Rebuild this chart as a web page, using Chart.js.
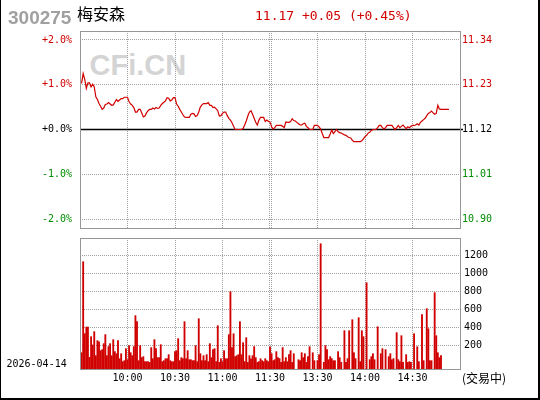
<!DOCTYPE html>
<html>
<head>
<meta charset="utf-8">
<script src="https://cdn.jsdelivr.net/npm/chart.js@4.4.1/dist/chart.umd.min.js"></script>
<style>
  html, body { margin: 0; padding: 0; background: #fff; }
  #frame { position: relative; width: 540px; height: 400px; overflow: hidden; background: #fff; }
  #edge { position: absolute; left: 0; top: 0; width: 540px; height: 400px; box-sizing: border-box;
          border-left: 1px solid #000; border-right: 2px solid #000; border-bottom: 2px solid #000; z-index: 5; }
  canvas { position: absolute; left: 0; z-index: 2; }
  .txt { position: absolute; white-space: pre; z-index: 3; }
  #code { left: 8px; top: 7.5px; font: bold 19px/19px 'Liberation Sans', Arial, sans-serif; color: #a0a0a0; }
  #name { left: 77px; top: 5px; font: 16px/16px 'Noto Sans CJK SC', sans-serif; color: #000; }
  #quote { left: 255px; top: 8.5px; font: 13px/13px 'DejaVu Sans Mono', monospace; color: #d00000; }
  #mark { left: 89.5px; top: 51px; font: bold 29px/29px 'Liberation Sans', Arial, sans-serif; color: #d4d4d4; z-index: 1; }
  #date { left: 6.5px; top: 358.5px; font: 10px/10px 'DejaVu Sans Mono', monospace; color: #000; }
  #state { left: 462px; top: 372px; font: 12px/12px 'Noto Sans CJK SC', sans-serif; color: #000; }
</style>
</head>
<body>
<div id="frame">
  <div id="code" class="txt">300275</div>
  <div id="name" class="txt">梅安森</div>
  <div id="quote" class="txt">11.17 +0.05 (+0.45%)</div>
  <div id="mark" class="txt">CFi.CN</div>
  <canvas id="priceChart" width="540" height="235" style="top:0"></canvas>
  <canvas id="volChart" width="540" height="168" style="top:232px"></canvas>
  <div id="date" class="txt">2026-04-14</div>
  <div id="state" class="txt">(交易中)</div>
  <div id="edge"></div>
</div>
<script>
// previous close and intraday data, one value per minute from 9:31
const prevClose = 11.12;

// change vs previous close, in percent
const pct = [
  1.03, 1.25, 1.12, 0.92, 1.04, 1.04, 0.95, 1.01, 0.95, 0.73,
  0.67, 0.58, 0.52, 0.45, 0.48, 0.56, 0.57, 0.60, 0.57, 0.54,
  0.55, 0.61, 0.67, 0.63, 0.66, 0.69, 0.69, 0.72, 0.72, 0.72,
  0.62, 0.57, 0.54, 0.49, 0.39, 0.39, 0.45, 0.45, 0.37, 0.28,
  0.30, 0.37, 0.42, 0.45, 0.45, 0.48, 0.46, 0.49, 0.47, 0.48,
  0.54, 0.58, 0.61, 0.64, 0.71, 0.70, 0.64, 0.66, 0.71, 0.71,
  0.57, 0.52, 0.45, 0.39, 0.33, 0.28, 0.27, 0.27, 0.27, 0.34,
  0.36, 0.35, 0.29, 0.31, 0.39, 0.50, 0.55, 0.58, 0.58, 0.58,
  0.60, 0.54, 0.54, 0.49, 0.50, 0.46, 0.42, 0.30, 0.31, 0.36,
  0.39, 0.39, 0.31, 0.25, 0.21, 0.15, 0.07, 0.00, 0.00, 0.00,
  0.00, 0.00, 0.02, 0.10, 0.19, 0.30, 0.39, 0.42, 0.34, 0.25,
  0.16, 0.10, 0.21, 0.27, 0.27, 0.27, 0.18, 0.21, 0.18, 0.17,
  0.06, 0.01, 0.04, 0.09, 0.09, 0.09, 0.09, 0.07, 0.04, 0.17,
  0.16, 0.16, 0.18, 0.24, 0.20, 0.19, 0.16, 0.13, 0.10, 0.10,
  0.13, 0.14, 0.07, 0.04, 0.00, 0.00, 0.00, 0.09, 0.09, 0.09,
  0.06, 0.01, -0.09, -0.18, -0.18, -0.18, -0.18, -0.10, -0.01, -0.09,
  -0.05, 0.00, -0.05, -0.07, -0.08, -0.10, -0.12, -0.13, -0.16, -0.18,
  -0.19, -0.24, -0.27, -0.27, -0.27, -0.27, -0.27, -0.25, -0.21, -0.16,
  -0.13, -0.08, -0.06, -0.02, 0.00, 0.00, 0.00, 0.04, 0.09, 0.09,
  0.04, 0.01, 0.04, 0.09, 0.09, 0.09, 0.09, 0.04, 0.00, 0.04,
  0.09, 0.04, 0.07, 0.10, 0.06, 0.02, 0.06, 0.04, 0.07, 0.09,
  0.09, 0.10, 0.13, 0.10, 0.16, 0.19, 0.22, 0.25, 0.31, 0.36,
  0.38, 0.41, 0.37, 0.34, 0.36, 0.54, 0.46, 0.45, 0.45, 0.45,
  0.45, 0.45, 0.45
];

// volume per minute (lots); null = no trade that minute
const vol = [
  118, 1135, 331, 405, 405, 66, 297, 204, 353, 85,
  253, 241, 141, 152, 219, 320, 85, 186, 219, 85,
  264, 130, 107, 253, 51, 107, 18, 29, 163, 40,
  197, 118, 85, 186, 532, 465, 29, 197, 63, 74,
  18, 18, 18, 10, 175, 51, 264, 163, 63, 63,
  208, 18, 29, 51, 51, 96, 29, 18, 18, 130,
  141, 275, 29, 63, 51, 465, 51, 141, 40, 40,
  29, 29, 197, 18, 498, 107, 29, 85, 29, 96,
  18, 219, 63, 152, 163, 18, 420, 10, 51, 18,
  141, 51, 51, 320, 800, 175, 330, 74, 85, 96,
  465, 96, 230, 18, 286, 10, 85, 51, 85, 186,
  63, 10, 18, 51, 29, 18, 51, 29, 18,
  185, 107, 29, 40, 130, 63, 52, 10, 175, 18,
  63, 18, 96, 141, 10, 107, null, null, 40, 29,
  118, 63, 107, 10, 74, 185, null, 118, 29, null,
  29, 96, 1336, null, 10, 197, 152, 40, 74, 52,
  29, 29, null, 130, 63, 10, null, 364, 10, 52,
  364, null, 487, 118, 52, null, 509, 18, 364, 297,
  null, 900, null, 40, 74, 107, 40, null, 408, null,
  107, 163, null, 152, null, 74, 107, 40, 52, null,
  342, 40, 18, 308, 10, null, 96, 10, 18, 10,
  null, 330, null, 185, 18, null, 543, 29, null, 610,
  386, 29, 29, null, 789, 308, 118, 63, 85
];

const pctTicks = [-2, -1, 0, 1, 2];
const volTicks = [200, 400, 600, 800, 1000, 1200];
const timeLabels = ['10:00', '10:30', '11:00', '11:30', '13:30', '14:00', '14:30'];
const lunchMinute = 120;
const volMin = -64;
const volMax = 1400;

const redC = '#d00000';
const greenC = '#008c00';
const gridC = '#a0a0a0';
const boxC = '#969696';
const mono = 'DejaVu Sans Mono';

const gridMinutes = timeLabels.map((t, i) => 30 * (i + 1));
const priceData = pct.map((v, i) => ({ x: i + 1, y: v }));
const volData = vol.map((v, i) => ({ x: i + 1, y: v })).filter(p => p.y !== null);

const signColor = v => v > 0 ? redC : v < 0 ? greenC : '#000';
const clear = 'rgba(0,0,0,0)';

// fixed axis width, no extra room for half labels
const fixWidth = w => s => { s.width = w; s.paddingTop = 0; s.paddingBottom = 0; };

// gray frame round each panel
const panelBox = {
  id: 'panelBox',
  afterDraw(chart) {
    const { ctx, chartArea: a } = chart;
    ctx.save();
    ctx.strokeStyle = boxC;
    ctx.lineWidth = 1;
    ctx.strokeRect(a.left + 0.5, a.top + 0.5, a.right - a.left, a.bottom - a.top);
    ctx.restore();
  }
};

// the 11:30 / 13:00 break is marked with a doubled dotted line
const lunchBreak = {
  id: 'lunchBreak',
  beforeDatasetsDraw(chart) {
    const { ctx, chartArea: a, scales } = chart;
    const x = Math.round(scales.x.getPixelForValue(lunchMinute));
    ctx.save();
    ctx.strokeStyle = gridC;
    ctx.lineWidth = 1;
    ctx.setLineDash([1, 1]);
    [x - 1, x + 1].forEach(px => {
      ctx.beginPath();
      ctx.moveTo(px + 0.5, a.top);
      ctx.lineTo(px + 0.5, a.bottom);
      ctx.stroke();
    });
    ctx.restore();
  }
};

// black line at previous close
const zeroLine = {
  id: 'zeroLine',
  beforeDatasetsDraw(chart) {
    const { ctx, chartArea: a, scales } = chart;
    const y = scales.y.getPixelForValue(0);
    ctx.save();
    ctx.strokeStyle = '#000';
    ctx.lineWidth = 1.5;
    ctx.beginPath();
    ctx.moveTo(a.left, y);
    ctx.lineTo(a.right + 3, y);
    ctx.stroke();
    ctx.restore();
  }
};

const xGridColor = c => (c.tick && c.tick.value === lunchMinute) ? clear : gridC;

new Chart(document.getElementById('priceChart'), {
  type: 'line',
  data: {
    datasets: [{
      data: priceData,
      borderColor: redC,
      borderWidth: 1.2,
      pointRadius: 0,
      tension: 0,
      yAxisID: 'y'
    }]
  },
  options: {
    responsive: false,
    animation: false,
    devicePixelRatio: 1,
    layout: { autoPadding: false, padding: { top: 31, bottom: 7, left: 0, right: 0 } },
    plugins: { legend: { display: false }, tooltip: { enabled: false } },
    scales: {
      x: {
        type: 'linear', min: 0, max: 240,
        afterBuildTicks: s => { s.ticks = gridMinutes.map(v => ({ value: v })); },
        afterFit: s => { s.height = 0; s.paddingLeft = 0; s.paddingRight = 0; },
        ticks: { display: false },
        grid: { color: xGridColor, drawTicks: false },
        border: { display: false, dash: [1, 1] }
      },
      y: {
        position: 'left', min: -2.2, max: 2.2,
        afterBuildTicks: s => { s.ticks = pctTicks.map(v => ({ value: v })); },
        afterFit: fixWidth(80),
        ticks: {
          padding: 8,
          font: { family: mono, size: 10 },
          color: c => signColor(c.tick.value),
          callback: v => (v >= 0 ? '+' : '') + v.toFixed(1) + '%'
        },
        grid: { drawTicks: false, color: c => (c.tick && c.tick.value === 0) ? clear : gridC },
        border: { display: false, dash: [1, 1] }
      },
      y2: {
        position: 'right', min: -2.2, max: 2.2,
        afterBuildTicks: s => { s.ticks = pctTicks.map(v => ({ value: v })); },
        afterFit: fixWidth(80),
        ticks: {
          padding: 2,
          font: { family: mono, size: 10 },
          color: c => signColor(c.tick.value),
          callback: v => (prevClose * (1 + v / 100)).toFixed(2)
        },
        grid: { display: false, drawTicks: false },
        border: { display: false }
      }
    }
  },
  plugins: [lunchBreak, zeroLine, panelBox]
});

new Chart(document.getElementById('volChart'), {
  type: 'bar',
  data: {
    datasets: [{
      data: volData,
      backgroundColor: redC,
      borderWidth: 0,
      barThickness: 1.2,
      base: volMin
    }]
  },
  options: {
    responsive: false,
    animation: false,
    devicePixelRatio: 1,
    layout: { autoPadding: false, padding: { top: 6, bottom: 0, left: 80, right: 0 } },
    plugins: { legend: { display: false }, tooltip: { enabled: false } },
    scales: {
      x: {
        type: 'linear', min: 0, max: 240, offset: false,
        afterBuildTicks: s => { s.ticks = gridMinutes.map(v => ({ value: v })); },
        afterFit: s => { s.height = 31; s.paddingLeft = 0; s.paddingRight = 0; },
        ticks: {
          padding: 3, maxRotation: 0, autoSkip: false,
          font: { family: mono, size: 10 }, color: '#000',
          callback: v => timeLabels[v / 30 - 1] || ''
        },
        grid: { color: xGridColor, drawTicks: false, offset: false },
        border: { display: false, dash: [1, 1] }
      },
      y: {
        position: 'right', min: volMin, max: volMax,
        afterBuildTicks: s => { s.ticks = volTicks.map(v => ({ value: v })); },
        afterFit: fixWidth(80),
        ticks: { padding: 4, font: { family: mono, size: 10 }, color: '#000', callback: v => String(v) },
        grid: { color: gridC, drawTicks: false },
        border: { display: false, dash: [1, 1] }
      }
    }
  },
  plugins: [lunchBreak, panelBox]
});
</script>
</body>
</html>
